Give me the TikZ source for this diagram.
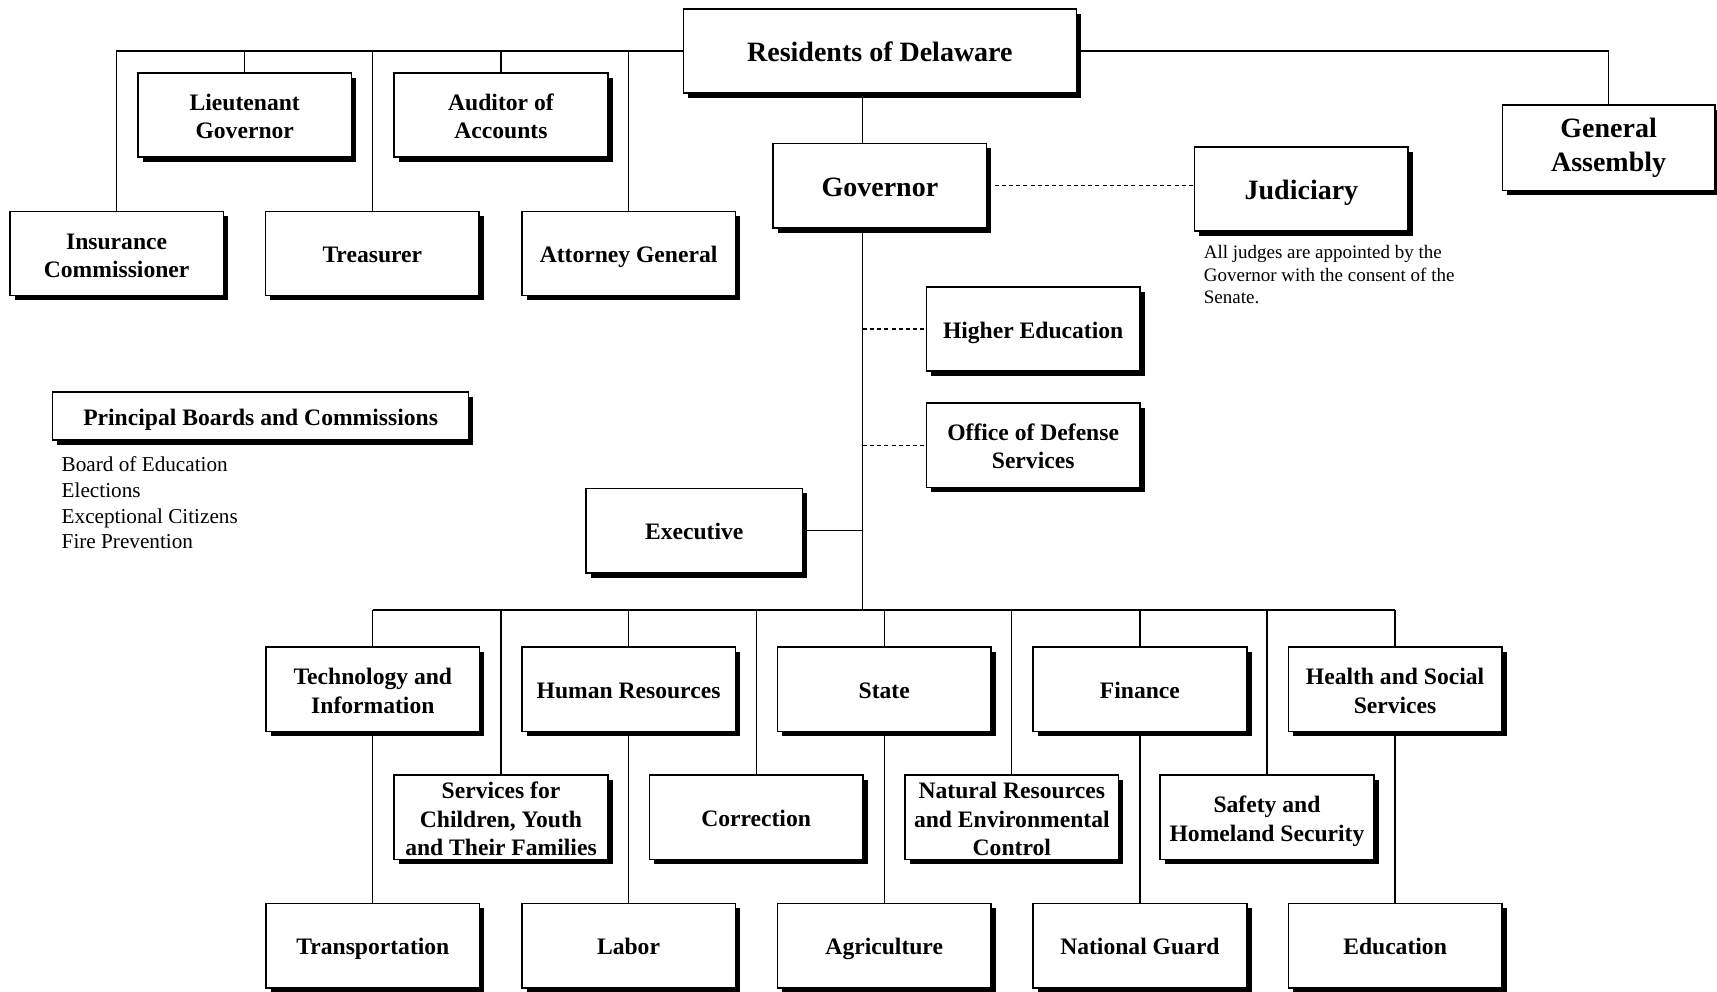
\documentclass[tikz,border=0pt]{standalone}
\usepackage{fontspec}
\setmainfont{Liberation Serif}
\usetikzlibrary{shadows}
\newcommand\chbox{\fontsize{11.8}{13.7}\selectfont\bfseries}
\newcommand\chbig{\fontsize{14}{17}\selectfont\bfseries}
\newcommand\chsmall{\fontsize{9.5}{11.2}\selectfont}
\newcommand\chlist{\fontsize{10.6}{12.8}\selectfont}
\newcommand\ml[1]{\raisebox{-10pt}{\smash{\renewcommand\arraystretch{1.03}\begin{tabular}{@{}c@{}}#1\end{tabular}}}}
\tikzset{
  plainbox/.style={draw, line width=0.8pt, fill=white, align=center, inner xsep=2pt, inner ysep=0pt,
    minimum width=195*0.5475pt, minimum height=77*0.5475pt, font=\chbox,
    drop shadow={shadow xshift=2.4pt, shadow yshift=-2.4pt, fill=black, opacity=1}},
  orgbox/.style={plainbox,
    execute at begin node=\rule{0pt}{0.98em},
    execute at end node=\vphantom{g}},
  mlbox/.style={plainbox},
  bigbox/.style={orgbox, font=\chbig},
  link/.style={line width=0.6pt},
  dlink/.style={line width=0.6pt, dash pattern=on 2pt off 1.6pt},
}
\begin{document}
\begin{tikzpicture}[x=0.5475pt, y=-0.5475pt]
\useasboundingbox (0,0) rectangle (1568,905);
\fill[white] (0,0) rectangle (1568,905);
% top level
\node[bigbox, minimum width=359*0.5475pt] (res) at (803.5,46.5) {Residents of Delaware};
\node[bigbox, minimum width=194*0.5475pt, minimum height=78*0.5475pt] (gen) at (1469,135) {General\\Assembly};
\node[mlbox] (ltg) at (223.5,105) {\ml{Lieutenant\\Governor}};
\node[mlbox] (aud) at (457.5,105) {\ml{Auditor of\\Accounts}};
\node[mlbox] (ins) at (106.5,231.5) {\ml{Insurance\\Commissioner}};
\node[orgbox] (tre) at (340,231.5) {Treasurer};
\node[orgbox] (att) at (574,231.5) {Attorney General};
\node[bigbox] (gov) at (803.5,169.5) {Governor};
\node[bigbox] (jud) at (1188.5,172.5) {Judiciary};
\node[anchor=north west, align=left, font=\chsmall, inner sep=0pt] (note) at (1099,224)
  {All judges are appointed by the\\Governor with the consent of the\\Senate.};
\node[orgbox] (hed) at (943.5,300.5) {Higher Education};
\node[mlbox] (ods) at (943.5,406.5) {\ml{Office of Defense\\Services}};
\node[orgbox, minimum width=198*0.5475pt] (exe) at (634,484.5) {Executive};
\node[orgbox, minimum width=380*0.5475pt, minimum height=44*0.5475pt] (pbc) at (238,380) {Principal Boards and Commissions};
\node[anchor=north west, align=left, font=\chlist, inner sep=0pt] (lst) at (56,417)
  {Board of Education\\Elections\\Exceptional Citizens\\Fire Prevention};
% departments
\node[mlbox] (tec) at (340.5,629.5) {\ml{Technology and\\Information}};
\node[orgbox] (hum) at (574,629.5) {Human Resources};
\node[orgbox] (sta) at (807.5,629.5) {State};
\node[orgbox] (fin) at (1041,629.5) {Finance};
\node[mlbox] (hss) at (1274,629.5) {\ml{Health and Social\\Services}};
\node[mlbox] (scy) at (457.5,746.5) {\ml{Services for\\Children, Youth\\and Their Families}};
\node[orgbox] (cor) at (690.5,746.5) {Correction};
\node[mlbox] (nat) at (924,746.5) {\ml{Natural Resources\\and Environmental\\Control}};
\node[mlbox] (saf) at (1157,746.5) {\ml{Safety and\\Homeland Security}};
\node[orgbox] (tra) at (340.5,863.5) {Transportation};
\node[orgbox] (lab) at (574,863.5) {Labor};
\node[orgbox] (agr) at (807.5,863.5) {Agriculture};
\node[orgbox] (nag) at (1041,863.5) {National Guard};
\node[orgbox] (edu) at (1274,863.5) {Education};
% coordinates
\coordinate (tk) at (788,0);
\coordinate (bus) at (788,557);
% connectors
\draw[link] (res.west) -- (ins.north |- res.west) -- (ins.north);
\foreach \n in {ltg,tre,aud,att} \draw[link] (\n.north |- res.west) -- (\n.north);
\draw[link] (res.east) -| (gen.north);
\draw[link] (res.south -| tk) -- (gov.north -| tk);
\draw[dlink] (gov.east) -- (jud.west |- gov.east);
\draw[link] (gov.south -| tk) -- (bus);
\draw[dlink] (hed.west -| tk) -- (hed.west);
\draw[dlink] (ods.west -| tk) -- (ods.west);
\draw[link] (exe.east) -- (exe.east -| tk);
\draw[link] (tec.north |- bus) -- (hss.north |- bus);
\foreach \n in {tec,hum,sta,fin,hss,scy,cor,nat,saf} \draw[link] (\n.north |- bus) -- (\n.north);
\draw[link] (tec.south) -- (tra.north);
\draw[link] (hum.south) -- (lab.north);
\draw[link] (sta.south) -- (agr.north);
\draw[link] (fin.south) -- (nag.north);
\draw[link] (hss.south) -- (edu.north);
\end{tikzpicture}
\end{document}
